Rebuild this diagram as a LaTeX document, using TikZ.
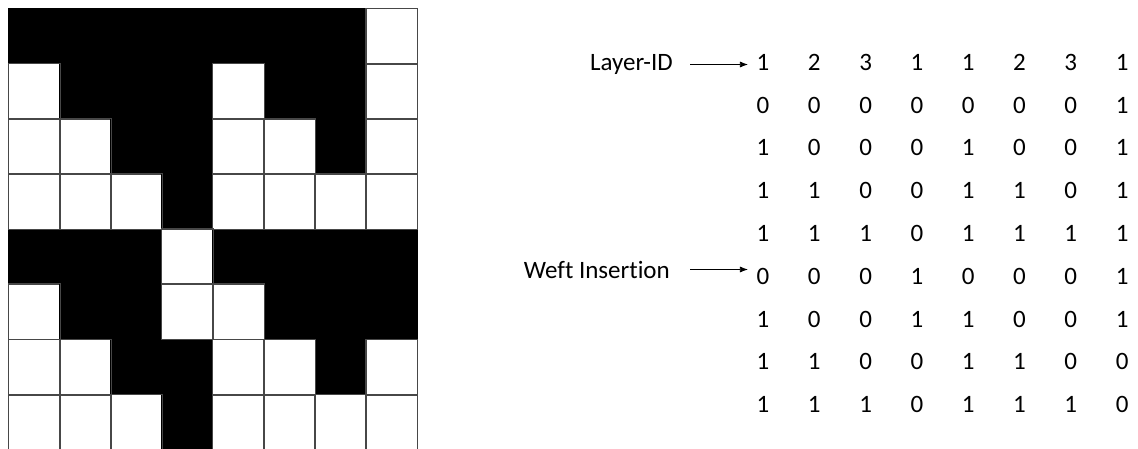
\documentclass[tikz,border=0pt]{standalone}
\usepackage{fontspec}
\setmainfont{Carlito}[Ligatures=NoCommon]
\usetikzlibrary{arrows.meta}
\tikzset{
  cellbox/.style={draw=black!72, line width=0.9pt, fill=white, minimum width=51.1pt, minimum height=55.1pt, inner sep=0pt, anchor=north west},
  blackcell/.style={cellbox, fill=black, draw=black},
  digit/.style={font=\fontsize{25}{29}\selectfont, inner sep=0pt, anchor=base},
  lbl/.style={font=\fontsize{25}{29}\selectfont, inner sep=0pt, anchor=base east},
  arr/.style={-{Latex[length=8pt,width=6pt]}, line width=0.7pt, black}
}
\begin{document}
\begin{tikzpicture}[x=1pt,y=-1pt]
\useasboundingbox[fill=white] (0,0) rectangle (1138,449);
% grid: 1 = black
\foreach \row [count=\r from 0] in {
  {1,1,1,1,1,1,1,0},
  {0,1,1,1,0,1,1,0},
  {0,0,1,1,0,0,1,0},
  {0,0,0,1,0,0,0,0},
  {1,1,1,0,1,1,1,1},
  {0,1,1,0,0,1,1,1},
  {0,0,1,1,0,0,1,0},
  {0,0,0,1,0,0,0,0}}{
  \foreach \v [count=\c from 0] in \row {
    \ifnum\v=1
      \node[blackcell] (g-\r-\c) at ({8+51.1*\c},{8.4+55.1*\r}) {};
    \else
      \node[cellbox] (g-\r-\c) at ({8+51.1*\c},{8.4+55.1*\r}) {};
    \fi
  }
}
% redraw borders of white cells on top
\foreach \row [count=\r from 0] in {
  {1,1,1,1,1,1,1,0},
  {0,1,1,1,0,1,1,0},
  {0,0,1,1,0,0,1,0},
  {0,0,0,1,0,0,0,0},
  {1,1,1,0,1,1,1,1},
  {0,1,1,0,0,1,1,1},
  {0,0,1,1,0,0,1,0},
  {0,0,0,1,0,0,0,0}}{
  \foreach \v [count=\c from 0] in \row {
    \ifnum\v=0
      \draw[draw=black!72, line width=0.9pt] (g-\r-\c.north west) rectangle (g-\r-\c.south east);
    \fi
  }
}
% matrix of numbers
\foreach \row [count=\r from 0] in {
  {1,2,3,1,1,2,3,1},
  {0,0,0,0,0,0,0,1},
  {1,0,0,0,1,0,0,1},
  {1,1,0,0,1,1,0,1},
  {1,1,1,0,1,1,1,1},
  {0,0,0,1,0,0,0,1},
  {1,0,0,1,1,0,0,1},
  {1,1,0,0,1,1,0,0},
  {1,1,1,0,1,1,1,0}}{
  \foreach \v [count=\c from 0] in \row {
    \node[digit] (m-\r-\c) at ({763+51.3*\c},{70.5+42.75*\r}) {\v};
  }
}
\node[lbl] (lid) at (673,70.5) {Layer-ID};
\node[lbl] (weft) at (670,278) {Weft Insertion};
\draw[arr, shorten <=17pt, shorten >=8.5pt] (lid.east) -- (lid.east -| m-0-0.west);
\draw[arr, shorten <=20pt, shorten >=8.5pt] (weft.east) -- (weft.east -| m-5-0.west);
\end{tikzpicture}
\end{document}
